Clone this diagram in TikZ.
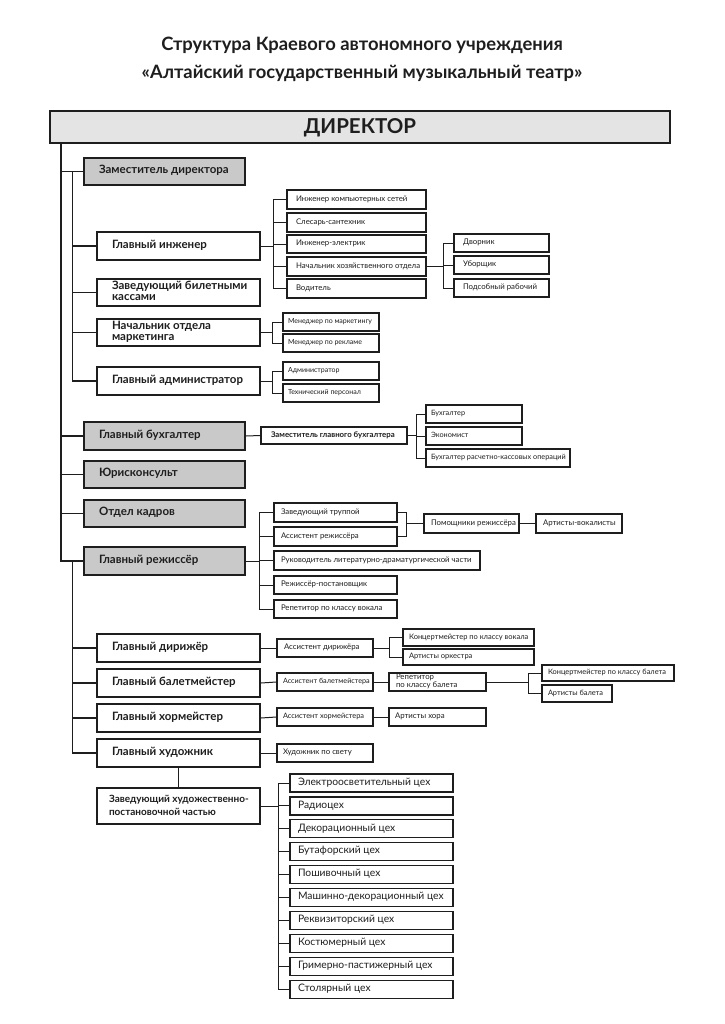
\documentclass[tikz,border=0pt]{standalone}
\usepackage{fontspec}
\setmainfont{Lato}
\definecolor{ln}{HTML}{1E1E1E}
\definecolor{gfill}{HTML}{C9C9C9}
\definecolor{dfill}{HTML}{E4E4E4}
\newcommand\mybox[8]{%
 \pgfmathsetmacro\bxw{#6-#4}\pgfmathsetmacro\bxh{#7-#5}%
 \pgfmathsetmacro\bxcx{(#4+#6)/2}\pgfmathsetmacro\bxcy{(#5+#7)/2}%
 \node[#2, inner sep=0pt, minimum width=\bxw pt, minimum height=\bxh pt] (#1) at (\bxcx,\bxcy)
   {\makebox[\bxw pt][l]{\hspace*{#3pt}\begin{tabular}{@{}l@{}}#8\end{tabular}}};}
\tikzset{
 L2/.style={draw=ln, line width=1.8pt, font=\bfseries\fontsize{11.5}{11.5}\selectfont, text=ln},
 L2g/.style={L2, fill=gfill},
 sm/.style={draw=ln, line width=1.1pt, font=\fontsize{7.8}{8}\selectfont, text=ln},
 smx/.style={sm, font=\fontsize{7}{8}\selectfont},
 ws/.style={draw=ln, line width=1.2pt, font=\fontsize{10.3}{11}\selectfont, text=ln},
 spine/.style={draw=ln, line width=1.6pt, line cap=rect},
 con/.style={draw=ln, line width=1pt, line cap=rect},
}
\begin{document}
\begin{tikzpicture}[x=1pt,y=-1pt]
\path[use as bounding box, fill=white] (0,0) rectangle (724,1024);
% title
\node[font=\bfseries\fontsize{18.4}{20}\selectfont, text=ln] (t1) at (362,45) {Структура Краевого автономного учреждения};
\node[font=\bfseries\fontsize{18.4}{20}\selectfont, text=ln] (t2) at (362,73) {«Алтайский государственный музыкальный театр»};
% director
\node[draw=ln, fill=dfill, line width=2pt, minimum width=620pt, minimum height=32pt, inner sep=0pt,
  font=\bfseries\fontsize{20.5}{24}\selectfont, text=ln] (dir) at (360,127.5) {ДИРЕКТОР};
% level 2 gray
\mybox{zam}{L2g}{15}{84}{158}{245}{185}{Заместитель директора}
\mybox{buh}{L2g}{15}{84}{422}{245}{450}{Главный бухгалтер}
\mybox{yur}{L2g}{15}{84}{461}{245}{488}{Юрисконсульт}
\mybox{kad}{L2g}{15}{84}{500}{245}{527}{Отдел кадров}
\mybox{rej}{L2g}{15}{84}{547}{245}{575}{Главный режиссёр}
% level 2 white
\mybox{ing}{L2}{15}{97}{232}{260}{260}{Главный инженер}
\mybox{kas}{L2}{15}{97}{279}{260}{306}{Заведующий билетными\\кассами}
\mybox{mar}{L2}{15}{97}{319}{260}{346}{Начальник отдела\\маркетинга}
\mybox{adm}{L2}{15}{97}{367}{260}{395}{Главный администратор}
\mybox{dri}{L2}{15}{97}{634}{260}{662}{Главный дирижёр}
\mybox{bal}{L2}{15}{97}{669}{260}{697}{Главный балетмейстер}
\mybox{hor}{L2}{15}{97}{704}{260}{732}{Главный хормейстер}
\mybox{hud}{L2}{15}{97}{739}{260}{767}{Главный художник}
\mybox{zav}{L2, font=\bfseries\fontsize{10}{13}\selectfont}{12}{97}{788}{260}{824}{Заведующий художественно-\\постановочной частью}
% engineer subs
\mybox{ik}{sm}{9}{287}{190}{426}{209}{Инженер компьютерных сетей}
\mybox{sl}{sm}{9}{287}{213}{426}{232}{Слесарь-сантехник}
\mybox{ie}{sm}{9}{287}{235}{426}{253}{Инженер-электрик}
\mybox{nh}{sm}{9}{287}{257}{426}{276}{Начальник хозяйственного отдела}
\mybox{vod}{sm}{9}{287}{279}{426}{298}{Водитель}
\mybox{dv}{sm}{9}{454}{234}{549}{252}{Дворник}
\mybox{ub}{sm}{9}{454}{256}{549}{274}{Уборщик}
\mybox{pr}{sm}{9}{454}{279}{549}{297}{Подсобный рабочий}
% marketing
\mybox{mm}{smx}{5}{283}{313}{379}{331}{Менеджер по маркетингу}
\mybox{mr}{smx}{5}{283}{334}{379}{352}{Менеджер по рекламе}
\mybox{ad}{smx}{5}{283}{362}{379}{380}{Администратор}
\mybox{tp}{smx}{5}{283}{384}{379}{402}{Технический персонал}
% accounting
\mybox{zgb}{sm, font=\bfseries\fontsize{7.8}{8}\selectfont}{10}{261}{427}{407}{444}{Заместитель главного бухгалтера}
\mybox{bu}{sm, font=\fontsize{7.3}{8}\selectfont}{5}{426}{405}{522}{423}{Бухгалтер}
\mybox{ek}{sm, font=\fontsize{7.3}{8}\selectfont}{5}{426}{427}{522}{445}{Экономист}
\mybox{brk}{sm, font=\fontsize{7.3}{8}\selectfont}{5}{426}{449}{570}{467}{Бухгалтер расчетно-кассовых операций}
% director subs
\mybox{zt}{sm}{7}{274}{503}{397}{522}{Заведующий труппой}
\mybox{ar}{sm}{7}{274}{527}{397}{546}{Ассистент режиссёра}
\mybox{rl}{sm}{7}{274}{551}{480}{570}{Руководитель литературно-драматургической части}
\mybox{rp}{sm}{7}{274}{576}{397}{594}{Режиссёр-постановщик}
\mybox{rv}{sm}{7}{274}{600}{397}{618}{Репетитор по классу вокала}
\mybox{pom}{sm}{7}{424}{514}{519}{533}{Помощники режиссёра}
\mybox{av}{sm}{7}{536}{514}{622}{533}{Артисты-вокалисты}
% conductor etc
\mybox{ad2}{sm}{7}{277}{639}{373}{657}{Ассистент дирижёра}
\mybox{kv}{sm, font=\fontsize{7.5}{8}\selectfont}{6}{403}{629}{534}{646}{Концертмейстер по классу вокала}
\mybox{ao}{sm, font=\fontsize{7.5}{8}\selectfont}{6}{403}{649}{534}{665}{Артисты оркестра}
\mybox{ab}{sm, font=\fontsize{7.2}{8}\selectfont}{6}{277}{673}{373}{691}{Ассистент балетмейстера}
\mybox{rb}{sm, font=\fontsize{7.8}{7.4}\selectfont}{7}{389}{673}{486}{691}{Репетитор\\по классу балета}
\mybox{kb}{sm, font=\fontsize{7.4}{8}\selectfont}{6}{542}{665}{674}{681}{Концертмейстер по классу балета}
\mybox{abl}{sm, font=\fontsize{7.4}{8}\selectfont}{6}{542}{685}{612}{702}{Артисты балета}
\mybox{ah}{sm, font=\fontsize{7.4}{8}\selectfont}{6}{277}{708}{373}{726}{Ассистент хормейстера}
\mybox{axr}{sm}{6}{389}{708}{486}{726}{Артисты хора}
\mybox{hs}{sm}{6}{277}{744}{373}{762}{Художник по свету}
% workshops
\foreach \t [count=\i from 0] in {Электроосветительный цех,Радиоцех,Декорационный цех,Бутафорский цех,Пошивочный цех,Машинно-декорационный цех,Реквизиторский цех,Костюмерный цех,Гримерно-пастижерный цех,Столярный цех}{
  \pgfmathsetmacro\ya{774+22.9*\i}\pgfmathsetmacro\yb{\ya+18}
  \mybox{c\i}{ws}{8}{290}{\ya}{453}{\yb}{\t}
}
% ---- connectors ----
\coordinate (s1) at (61,0);
\coordinate (s2) at (72.5,0);
\draw[spine] (dir.south -| s1) -- (rej.west -| s1);
\foreach \n in {zam,buh,yur,kad,rej} \draw[spine] (\n.west -| s1) -- (\n.west);
\draw[spine] (zam.west -| s2) -- (adm.west -| s2);
\foreach \n in {ing,kas,mar,adm} \draw[spine] (\n.west -| s2) -- (\n.west);
\draw[spine] (rej.west -| s2) -- (hud.west -| s2);
\foreach \n in {dri,bal,hor,hud} \draw[spine] (\n.west -| s2) -- (\n.west);
\draw[spine] (hud.south) -- (zav.north);
% engineer
\coordinate (b1) at (273,0);
\draw[con] (ing.east) -- (ing.east -| b1);
\draw[con] (ik.west -| b1) -- (vod.west -| b1);
\foreach \n in {ik,sl,ie,nh,vod} \draw[con] (\n.west -| b1) -- (\n.west);
\coordinate (b2) at (443,0);
\draw[con] (nh.east) -- (nh.east -| b2);
\draw[con] (dv.west -| b2) -- (pr.west -| b2);
\foreach \n in {dv,ub,pr} \draw[con] (\n.west -| b2) -- (\n.west);
% marketing / admin
\coordinate (b3) at (272,0);
\draw[con] (mar.east) -- (mar.east -| b3);
\draw[con] (mm.west -| b3) -- (mr.west -| b3);
\foreach \n in {mm,mr} \draw[con] (\n.west -| b3) -- (\n.west);
\draw[con] (adm.east) -- (adm.east -| b3);
\draw[con] (ad.west -| b3) -- (tp.west -| b3);
\foreach \n in {ad,tp} \draw[con] (\n.west -| b3) -- (\n.west);
% accounting
\draw[con] (buh.east) -- (zgb.west);
\coordinate (b4) at (416,0);
\draw[con] (zgb.east) -- (zgb.east -| b4);
\draw[con] (bu.west -| b4) -- (brk.west -| b4);
\foreach \n in {bu,ek,brk} \draw[con] (\n.west -| b4) -- (\n.west);
% director subs
\coordinate (b5) at (259,0);
\draw[con] (rej.east) -- (rej.east -| b5);
\draw[con] (zt.west -| b5) -- (rv.west -| b5);
\foreach \n in {zt,ar,rl,rp,rv} \draw[con] (\n.west -| b5) -- (\n.west);
\coordinate (b6) at (406,0);
\draw[con] (zt.east) -- (zt.east -| b6) -- (ar.east -| b6) -- (ar.east);
\draw[con] (pom.west -| b6) -- (pom.west);
\draw[con] (pom.east) -- (av.west);
% conductor
\draw[con] (dri.east) -- (ad2.west);
\coordinate (b7) at (389,0);
\draw[con] (ad2.east) -- (ad2.east -| b7);
\draw[con] (kv.west -| b7) -- (ao.west -| b7);
\foreach \n in {kv,ao} \draw[con] (\n.west -| b7) -- (\n.west);
\draw[con] (bal.east) -- (ab.west);
\draw[con] (ab.east) -- (rb.west);
\coordinate (b8) at (528,0);
\draw[con] (rb.east) -- (rb.east -| b8);
\draw[con] (kb.west -| b8) -- (abl.west -| b8);
\foreach \n in {kb,abl} \draw[con] (\n.west -| b8) -- (\n.west);
\draw[con] (hor.east) -- (ah.west);
\draw[con] (ah.east) -- (axr.west);
\draw[con] (hud.east) -- (hs.west);
% workshops
\coordinate (b9) at (278,0);
\draw[con] (zav.east) -- (zav.east -| b9);
\draw[con] (c0.west -| b9) -- (c9.west -| b9);
\foreach \i in {0,...,9} \draw[con] (c\i.west -| b9) -- (c\i.west);
\end{tikzpicture}
\end{document}
